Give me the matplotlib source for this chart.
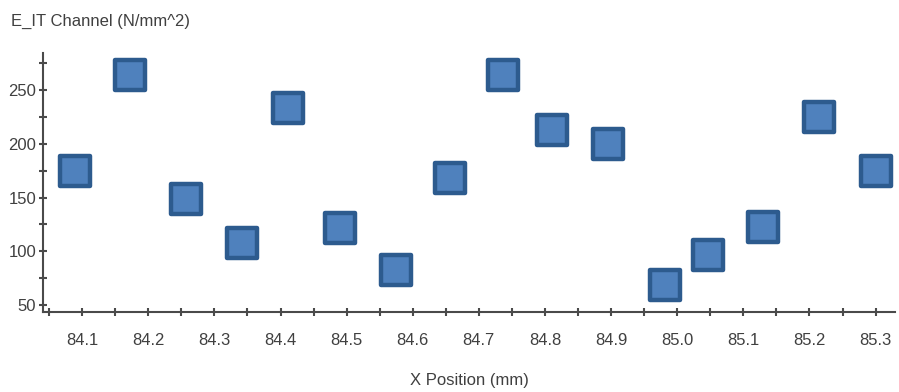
import numpy as np
import matplotlib.pyplot as plt
from matplotlib.markers import MarkerStyle
from matplotlib.ticker import MultipleLocator, FormatStrFormatter

plt.rcParams['font.family'] = ['Liberation Sans', 'DejaVu Sans']

# measured modulus along the channel
x_pos = [84.089, 84.172, 84.257, 84.342, 84.411, 84.490, 84.574, 84.656,
         84.736, 84.810, 84.895, 84.981, 85.046, 85.129, 85.215, 85.300]
e_it = [175, 264, 149, 108, 233, 122, 83, 168,
        264, 213, 200, 69, 97, 123, 225, 175]

fig = plt.figure(figsize=(8.99, 3.92), dpi=100)
ax = fig.add_axes([0.048, 0.204, 0.948, 0.661])

square = MarkerStyle('s', joinstyle='round')
ax.plot(x_pos, e_it, linestyle='none', marker=square, markersize=21,
        markerfacecolor='#4f81bd', markeredgecolor='#2d5b8e',
        markeredgewidth=3.2)

ax.set_xlim(84.041, 85.33)
ax.set_ylim(43.5, 284.5)

ax.xaxis.set_major_locator(MultipleLocator(0.1))
ax.xaxis.set_minor_locator(MultipleLocator(0.05))
ax.xaxis.set_major_formatter(FormatStrFormatter('%.1f'))
ax.yaxis.set_major_locator(MultipleLocator(50))
ax.yaxis.set_minor_locator(MultipleLocator(25))

for s in ['top', 'right']:
    ax.spines[s].set_visible(False)
for s in ['left', 'bottom']:
    ax.spines[s].set_color('#4a4a4a')
    ax.spines[s].set_linewidth(1.5)

ax.tick_params(which='both', direction='inout', length=6, width=1.5,
               color='#4a4a4a', labelcolor='#404040', labelsize=12)
ax.tick_params(axis='x', pad=12)
ax.tick_params(axis='y', pad=2)

ax.set_xlabel('X Position (mm)', fontsize=12, color='#404040', labelpad=18)
fig.text(0.012, 0.945, 'E_IT Channel (N/mm^2)', fontsize=12, color='#404040',
         ha='left', va='center')

fig.savefig('out.png', dpi=100)
